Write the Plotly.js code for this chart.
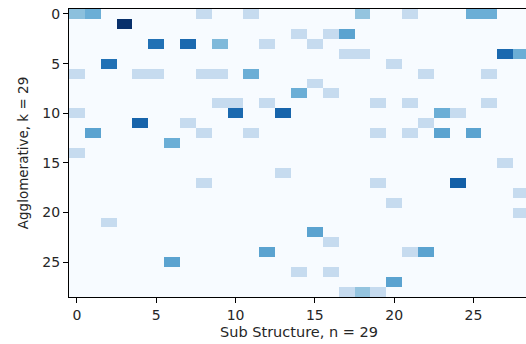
<!DOCTYPE html>
<html>
<head>
<meta charset="utf-8">
<script src="https://cdn.plot.ly/plotly-3.0.1.min.js"></script>
<style>
html,body{margin:0;padding:0;overflow:hidden;background:#fff;}
#chart{width:529px;height:344px;}
</style>
</head>
<body>
<div id="chart"></div>
<script>
// Sparse cell data: row index (Agglomerative), column index (Sub Structure), value
const nRows = 29;
const nCols = 29;
const cellRows = [0,0,0,0,0,0,0,0, 1, 2,2,2, 3,3,3,3,3, 4,4,4,4, 5,5, 6,6,6,6,6,6,6,6, 7, 8,8, 9,9,9,9,9,9, 10,10,10,10,10, 11,11,11, 12,12,12,12,12,12,12, 13, 14, 15, 16, 17,17,17, 18, 19, 20, 21, 22, 23, 24,24,24, 25, 26,26, 27, 28,28,28];
const cellCols = [0,1,8,11,18,21,25,26, 3, 14,16,17, 5,7,9,12,15, 17,18,27,28, 2,20, 0,4,5,8,9,11,22,26, 15, 14,16, 9,10,12,19,21,26, 0,10,13,23,24, 4,7,22, 1,8,11,19,21,23,25, 6, 0, 27, 13, 8,19,24, 28, 20, 28, 2, 15, 16, 12,21,22, 6, 14,16, 20, 17,18,19];
const cellValues = [0.42,0.5,0.25,0.25,0.4,0.25,0.5,0.5, 1.0, 0.25,0.25,0.55, 0.75,0.78,0.45,0.25,0.25, 0.25,0.25,0.78,0.5, 0.75,0.25, 0.25,0.25,0.25,0.25,0.25,0.5,0.25,0.25, 0.25, 0.5,0.25, 0.25,0.25,0.25,0.25,0.25,0.25, 0.25,0.78,0.8,0.5,0.25, 0.8,0.25,0.25, 0.55,0.25,0.25,0.25,0.25,0.55,0.55, 0.5, 0.25, 0.25, 0.25, 0.25,0.25,0.82, 0.25, 0.25, 0.25, 0.25, 0.55, 0.25, 0.55,0.25,0.55, 0.55, 0.25,0.25, 0.55, 0.25,0.4,0.25];
const xTickVals = [0,5,10,15,20,25];
const yTickVals = [0,5,10,15,20,25];
const xTitle = "Sub Structure, n = 29";
const yTitle = "Agglomerative, k = 29";

const z = [];
for (let r = 0; r < nRows; r++) { z.push(new Array(nCols).fill(0)); }
for (let i = 0; i < cellRows.length; i++) { z[cellRows[i]][cellCols[i]] = cellValues[i]; }
const xs = Array.from({length:nCols}, (_, i) => i);
const ys = Array.from({length:nRows}, (_, i) => i);

const blues = [
  [0,'#f7fbff'],[0.125,'#deebf7'],[0.25,'#c6dbef'],[0.375,'#9ecae1'],
  [0.5,'#6baed6'],[0.625,'#4292c6'],[0.75,'#2171b5'],[0.875,'#08519c'],[1,'#08306b']
];

const fam = 'DejaVu Sans, sans-serif';
const tickFont = {family:fam, size:14, color:'#262626'};
const xTitleFont = {family:fam, size:14.5, color:'#262626'};
const yTitleFont = {family:fam, size:13.5, color:'#262626'};
const axisCommon = {
  showgrid:false, zeroline:false, showline:true, mirror:true,
  linecolor:'#000', linewidth:1, ticks:'outside', ticklen:5, tickwidth:1,
  tickcolor:'#000', tickfont:tickFont
};

Plotly.newPlot('chart', [{
  type:'heatmap', x:xs, y:ys, z:z, zmin:0, zmax:1,
  colorscale:blues, showscale:false, hoverinfo:'skip'
}], {
  width:529, height:344,
  margin:{l:69, r:0, t:9, b:47},
  paper_bgcolor:'#fff', plot_bgcolor:'#f7fbff',
  font:tickFont,
  xaxis:Object.assign({}, axisCommon, {
    range:[-0.5, nCols-0.5], tickvals:xTickVals, automargin:true,
    title:{text:xTitle, font:xTitleFont, standoff:5}
  }),
  yaxis:Object.assign({}, axisCommon, {
    range:[nRows-0.5, -0.5], tickvals:yTickVals, automargin:true,
    title:{text:yTitle, font:yTitleFont, standoff:10}
  })
}, {displayModeBar:false, staticPlot:true});
</script>
</body>
</html>
